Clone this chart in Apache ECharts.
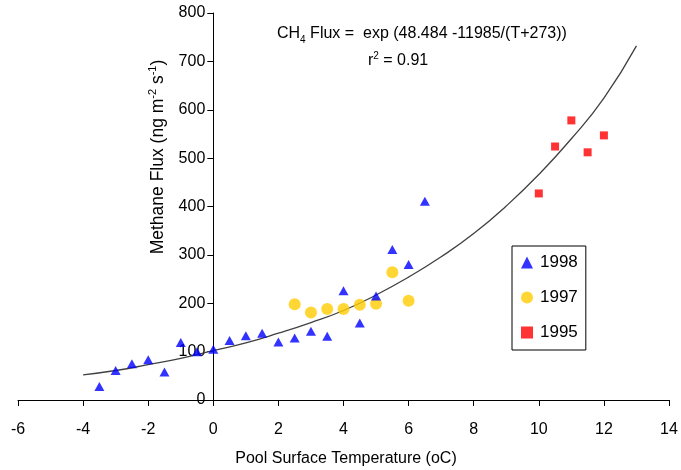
<!DOCTYPE html>
<html>
<head>
<meta charset="utf-8">
<script src="https://cdn.jsdelivr.net/npm/echarts@6/dist/echarts.min.js"></script>
<style>
html,body{margin:0;padding:0;background:#fff;}
#c{width:681px;height:470px;}
</style>
</head>
<body>
<div id="c"></div>
<script>
// 1998 observations (triangles)
const temp1998 = [-3.5,-3,-2.5,-2,-1.5,-1,-0.5,0,0.5,1,1.5,2,2.5,3,3.5,4,4.5,5,5.5,6,6.5];
const flux1998 = [28,61,75,83,58,119,100,105,123,133,138,120,128,142,132,226,159,215,311,280,411];
// 1997 observations (circles)
const temp1997 = [2.5,3,3.5,4,4.5,5,5.5,6];
const flux1997 = [198,181,188,188,197,199,264,205];
// 1995 observations (squares)
const temp1995 = [10,10.5,11,11.5,12];
const flux1995 = [427,524,578,512,547];
// fitted curve
const fitTemp = [-4,-3,-2,-1,0,1,2,3,4,5,6,7,8,9,10,11,12,13];
const fitFlux = [52,61,73,86,102,118,138,160,185,217,254,296,344,401,466,540,624,732];
// axis ticks
const xTicks = [-6,-4,-2,0,2,4,6,8,10,12,14];
const yTicks = [0,100,200,300,400,500,600,700,800];
const seriesNames = ['1998','1997','1995'];

const zip = (a,b) => a.map((v,i)=>[v,b[i]]);
const font = 'Liberation Sans, Arial, sans-serif';

const W = 681, gridLeft = 18, gridRight = 12;
const xMin = xTicks[0], xMax = xTicks[xTicks.length-1];
// shift the y axis so that it sits on x = 0 (axis crossing as in the original)
const yAxisOffset = -((W - gridLeft - gridRight) * (0 - xMin) / (xMax - xMin));

const chart = echarts.init(document.getElementById('c'), null, {renderer:'canvas'});
chart.setOption({
  animation:false,
  backgroundColor:'#fff',
  grid:{left:gridLeft,right:gridRight,top:13,bottom:70,containLabel:false,outerBoundsMode:'none'},
  xAxis:{
    type:'value',min:xMin,max:xMax,interval:2,
    axisLine:{onZero:false,lineStyle:{color:'#000',width:1}},
    axisTick:{show:true,length:6,lineStyle:{color:'#000'}},
    axisLabel:{color:'#000',fontSize:16,fontFamily:font,margin:22},
    splitLine:{show:false}
  },
  yAxis:{
    type:'value',min:yTicks[0],max:yTicks[yTicks.length-1],interval:100,
    offset:yAxisOffset,
    axisLine:{show:true,onZero:false,lineStyle:{color:'#000',width:1}},
    axisTick:{show:true,length:6,lineStyle:{color:'#000'}},
    axisLabel:{color:'#000',fontSize:16,fontFamily:font,margin:8},
    splitLine:{show:false}
  },
  legend:{
    data:seriesNames,
    orient:'vertical',
    left:512,top:246,
    padding:[8,8,9,9],
    itemGap:18,
    itemWidth:12,itemHeight:12,
    borderColor:'#000',borderWidth:1,
    textStyle:{color:'#000',fontSize:17,fontFamily:font,padding:[0,0,0,2]}
  },
  series:[
    {name:'fit',type:'line',data:zip(fitTemp,fitFlux),smooth:true,showSymbol:false,
     lineStyle:{color:'#404040',width:1.3},z:1,silent:true},
    {name:'1998',type:'scatter',data:zip(temp1998,flux1998),symbol:'triangle',symbolSize:[10,9],
     itemStyle:{color:'#0000FF'},z:3},
    {name:'1997',type:'scatter',data:zip(temp1997,flux1997),symbol:'circle',symbolSize:12,
     itemStyle:{color:'#FFCC00'},z:2},
    {name:'1995',type:'scatter',data:zip(temp1995,flux1995),symbol:'rect',symbolSize:8,
     itemStyle:{color:'#FF0000'},z:3}
  ],
  graphic:[
    {type:'text',left:277,top:26,style:{
      text:'{a|CH}{s|4}{a| Flux =  exp (48.484 -11985/(T+273))}',
      rich:{a:{fontSize:16,fontFamily:font,fill:'#000',verticalAlign:'bottom',lineHeight:18},
            s:{fontSize:10,fontFamily:font,fill:'#000',verticalAlign:'bottom',lineHeight:18,padding:[0,0,-3,0]}}
    }},
    {type:'text',left:368,top:51,style:{
      text:'{a|r}{s|2}{a| = 0.91}',
      rich:{a:{fontSize:16,fontFamily:font,fill:'#000',verticalAlign:'bottom',lineHeight:18},
            s:{fontSize:10,fontFamily:font,fill:'#000',verticalAlign:'top',lineHeight:18,padding:[0,0,6,0]}}
    }},
    {type:'text',x:346,y:459,style:{
      text:'Pool Surface Temperature (oC)',fontSize:16,fontFamily:font,fill:'#000',
      textAlign:'center',textVerticalAlign:'middle'}},
    {type:'text',x:157,y:157,rotation:Math.PI/2,style:{
      text:'{a|Methane Flux (ng m}{s|-2}{a| s}{s|-1}{a|)}',
      textAlign:'center',textVerticalAlign:'middle',
      rich:{a:{fontSize:17.5,fontFamily:font,fill:'#000',verticalAlign:'bottom',lineHeight:20},
            s:{fontSize:11,fontFamily:font,fill:'#000',verticalAlign:'top',lineHeight:20,padding:[0,0,7,0]}}
    }}
  ]
});
</script>
</body>
</html>
